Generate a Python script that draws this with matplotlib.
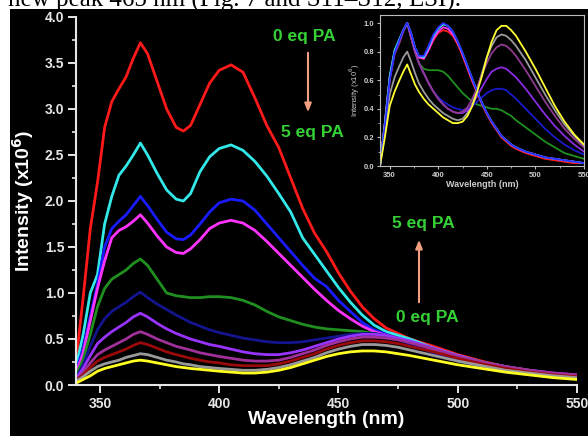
import matplotlib
matplotlib.use("Agg")
import matplotlib.pyplot as plt
from matplotlib.patches import Rectangle
from matplotlib.ticker import MultipleLocator

plt.rcParams['font.family'] = ['Liberation Sans', 'DejaVu Sans']

# ---- main spectra (x10^6), 0 eq PA -> 5 eq PA ----
wl = [340, 343, 346, 349, 352, 355, 358, 361, 364, 367, 370, 374, 378, 382, 385, 388, 392, 396, 400, 405, 410,
      415, 420, 425, 430, 435, 440, 445, 450, 455, 460, 465, 470, 475, 480, 490, 500, 510, 520, 530, 540, 550]

red = [0.25, 0.95, 1.70, 2.20, 2.80, 3.08, 3.22, 3.35, 3.55, 3.72, 3.60, 3.30, 3.00, 2.80, 2.76, 2.82, 3.05, 3.28,
       3.42, 3.48, 3.40, 3.12, 2.82, 2.58, 2.25, 1.92, 1.65, 1.45, 1.22, 1.02, 0.85, 0.72, 0.62, 0.56, 0.50, 0.42,
       0.33, 0.26, 0.20, 0.16, 0.12, 0.10]
cyan = [0.20, 0.55, 1.00, 1.20, 1.75, 2.05, 2.28, 2.38, 2.50, 2.63, 2.50, 2.30, 2.12, 2.02, 2.00, 2.08, 2.32, 2.48,
        2.57, 2.61, 2.55, 2.43, 2.27, 2.08, 1.88, 1.60, 1.42, 1.24, 1.06, 0.90, 0.76, 0.65, 0.58, 0.54, 0.50, 0.40,
        0.32, 0.25, 0.20, 0.15, 0.12, 0.10]
blue = [0.15, 0.40, 0.75, 1.10, 1.50, 1.70, 1.78, 1.85, 1.95, 2.05, 1.95, 1.80, 1.66, 1.59, 1.58, 1.63, 1.75, 1.88,
        1.98, 2.02, 2.00, 1.90, 1.75, 1.60, 1.45, 1.30, 1.16, 1.07, 0.92, 0.80, 0.68, 0.60, 0.55, 0.50, 0.45, 0.35,
        0.27, 0.20, 0.16, 0.12, 0.10, 0.08]
magenta = [0.12, 0.35, 0.70, 1.05, 1.35, 1.60, 1.68, 1.72, 1.78, 1.85, 1.76, 1.62, 1.50, 1.44, 1.43, 1.48, 1.58,
           1.70, 1.76, 1.79, 1.76, 1.68, 1.56, 1.43, 1.30, 1.17, 1.04, 0.92, 0.81, 0.72, 0.64, 0.58, 0.54, 0.50,
           0.46, 0.38, 0.30, 0.24, 0.19, 0.15, 0.12, 0.10]
green = [0.10, 0.28, 0.55, 0.85, 1.05, 1.15, 1.20, 1.25, 1.32, 1.37, 1.30, 1.15, 1.00, 0.97, 0.96, 0.95, 0.95, 0.96,
         0.96, 0.95, 0.92, 0.87, 0.80, 0.74, 0.70, 0.66, 0.63, 0.61, 0.60, 0.59, 0.58, 0.56, 0.53, 0.50, 0.47, 0.39,
         0.31, 0.25, 0.20, 0.16, 0.12, 0.10]
navy = [0.08, 0.22, 0.42, 0.60, 0.72, 0.80, 0.85, 0.90, 0.96, 1.01, 0.95, 0.88, 0.82, 0.76, 0.72, 0.68, 0.64, 0.60,
        0.57, 0.54, 0.51, 0.49, 0.47, 0.46, 0.46, 0.47, 0.49, 0.51, 0.53, 0.55, 0.56, 0.56, 0.54, 0.50, 0.45, 0.35,
        0.26, 0.20, 0.15, 0.12, 0.09, 0.07]
violet = [0.07, 0.18, 0.32, 0.45, 0.52, 0.58, 0.63, 0.68, 0.74, 0.78, 0.74, 0.67, 0.61, 0.56, 0.53, 0.50, 0.47, 0.44,
          0.42, 0.39, 0.36, 0.34, 0.33, 0.33, 0.35, 0.38, 0.42, 0.46, 0.50, 0.53, 0.55, 0.55, 0.54, 0.51, 0.48, 0.40,
          0.32, 0.25, 0.20, 0.16, 0.13, 0.11]
plum = [0.06, 0.14, 0.24, 0.33, 0.38, 0.42, 0.46, 0.50, 0.55, 0.58, 0.55, 0.50, 0.46, 0.42, 0.40, 0.38, 0.35, 0.33,
        0.31, 0.29, 0.27, 0.26, 0.26, 0.27, 0.30, 0.34, 0.38, 0.43, 0.47, 0.50, 0.52, 0.52, 0.51, 0.49, 0.46, 0.39,
        0.31, 0.25, 0.20, 0.16, 0.13, 0.11]
darkred = [0.05, 0.11, 0.19, 0.26, 0.30, 0.33, 0.36, 0.39, 0.43, 0.46, 0.44, 0.40, 0.36, 0.33, 0.31, 0.29, 0.27,
           0.25, 0.24, 0.22, 0.21, 0.21, 0.21, 0.23, 0.26, 0.30, 0.34, 0.39, 0.43, 0.46, 0.48, 0.48, 0.47, 0.45,
           0.42, 0.36, 0.29, 0.23, 0.18, 0.14, 0.11, 0.09]
gray = [0.04, 0.09, 0.15, 0.20, 0.23, 0.25, 0.27, 0.30, 0.32, 0.34, 0.33, 0.30, 0.27, 0.25, 0.23, 0.22, 0.20, 0.19,
        0.18, 0.17, 0.16, 0.16, 0.17, 0.19, 0.22, 0.26, 0.30, 0.35, 0.39, 0.42, 0.44, 0.44, 0.43, 0.41, 0.38, 0.32,
        0.26, 0.21, 0.16, 0.13, 0.10, 0.08]
yellow = [0.02, 0.06, 0.10, 0.15, 0.18, 0.20, 0.22, 0.24, 0.26, 0.27, 0.26, 0.24, 0.22, 0.20, 0.19, 0.18, 0.17, 0.16,
          0.15, 0.14, 0.13, 0.13, 0.14, 0.16, 0.19, 0.23, 0.27, 0.31, 0.34, 0.36, 0.37, 0.37, 0.36, 0.34, 0.32, 0.27,
          0.22, 0.18, 0.14, 0.11, 0.08, 0.06]

main_series = [red, cyan, blue, magenta, green, navy, violet, plum, darkred, gray, yellow]
main_colors = ['#ff1a1a', '#33e8e8', '#1a1aff', '#ff33ff', '#1f8f1f', '#14148f', '#9933ff', '#a0309a',
               '#9a0a0a', '#9a9a9a', '#ffff22']

# ---- inset, normalised spectra ----
wl_in = [340, 345, 350, 355, 360, 364, 368, 372, 376, 380, 385, 390, 395, 400, 405, 410, 415, 420, 425, 430, 435,
         440, 445, 450, 455, 460, 465, 470, 475, 480, 490, 500, 510, 520, 530, 540, 550]

in_red = [0.0, 0.30, 0.62, 0.80, 0.88, 0.95, 1.00, 0.92, 0.82, 0.76, 0.75, 0.81, 0.88, 0.93, 0.95, 0.94, 0.91,
          0.85, 0.77, 0.68, 0.59, 0.51, 0.43, 0.36, 0.30, 0.25, 0.20, 0.17, 0.14, 0.12, 0.09, 0.07, 0.05, 0.04,
          0.03, 0.02, 0.02]
in_cyan = [0.0, 0.30, 0.63, 0.81, 0.89, 0.95, 1.00, 0.93, 0.83, 0.77, 0.76, 0.83, 0.91, 0.96, 0.99, 0.98, 0.94,
           0.87, 0.79, 0.70, 0.61, 0.52, 0.44, 0.37, 0.31, 0.26, 0.21, 0.18, 0.15, 0.13, 0.10, 0.08, 0.06, 0.05,
           0.04, 0.03, 0.02]
in_blue = [0.0, 0.28, 0.60, 0.79, 0.88, 0.95, 1.00, 0.93, 0.83, 0.77, 0.77, 0.84, 0.92, 0.97, 1.00, 0.98, 0.94,
           0.87, 0.79, 0.70, 0.61, 0.52, 0.44, 0.37, 0.31, 0.26, 0.21, 0.18, 0.15, 0.13, 0.10, 0.08, 0.06, 0.05,
           0.04, 0.03, 0.02]
in_magenta = [0.0, 0.29, 0.61, 0.80, 0.88, 0.95, 1.00, 0.92, 0.82, 0.76, 0.75, 0.81, 0.89, 0.94, 0.97, 0.96, 0.92,
              0.86, 0.78, 0.69, 0.60, 0.52, 0.44, 0.37, 0.31, 0.26, 0.21, 0.18, 0.15, 0.13, 0.10, 0.08, 0.06,
              0.05, 0.04, 0.03, 0.02]
in_green = [0.0, 0.30, 0.62, 0.80, 0.88, 0.95, 1.00, 0.90, 0.80, 0.72, 0.68, 0.67, 0.67, 0.67, 0.66, 0.63, 0.59,
            0.55, 0.51, 0.48, 0.45, 0.43, 0.42, 0.41, 0.40, 0.40, 0.39, 0.37, 0.35, 0.32, 0.27, 0.22, 0.17, 0.13,
            0.09, 0.07, 0.05]
in_navy = [0.0, 0.30, 0.62, 0.80, 0.88, 0.95, 1.00, 0.90, 0.80, 0.72, 0.65, 0.58, 0.52, 0.48, 0.45, 0.43, 0.41,
           0.40, 0.39, 0.40, 0.42, 0.45, 0.48, 0.51, 0.53, 0.54, 0.54, 0.53, 0.50, 0.47, 0.40, 0.33, 0.26, 0.20,
           0.15, 0.11, 0.08]
in_violet = [0.0, 0.30, 0.62, 0.80, 0.88, 0.95, 1.00, 0.90, 0.80, 0.72, 0.65, 0.58, 0.52, 0.47, 0.43, 0.40, 0.38,
             0.37, 0.37, 0.39, 0.43, 0.49, 0.55, 0.61, 0.66, 0.68, 0.69, 0.68, 0.65, 0.62, 0.54, 0.45, 0.36, 0.28,
             0.21, 0.15, 0.10]
in_plum = [0.0, 0.30, 0.60, 0.78, 0.86, 0.94, 1.00, 0.90, 0.80, 0.72, 0.65, 0.58, 0.52, 0.47, 0.43, 0.40, 0.38,
           0.37, 0.38, 0.41, 0.47, 0.55, 0.64, 0.72, 0.79, 0.83, 0.85, 0.84, 0.81, 0.77, 0.67, 0.56, 0.45, 0.35,
           0.26, 0.19, 0.13]
in_gray = [0.0, 0.24, 0.50, 0.62, 0.70, 0.76, 0.80, 0.73, 0.65, 0.58, 0.52, 0.47, 0.43, 0.40, 0.37, 0.35, 0.33,
           0.32, 0.33, 0.37, 0.44, 0.54, 0.65, 0.76, 0.84, 0.90, 0.92, 0.91, 0.88, 0.84, 0.74, 0.62, 0.50, 0.39,
           0.29, 0.21, 0.14]
in_yellow = [0.0, 0.20, 0.42, 0.52, 0.60, 0.66, 0.71, 0.64, 0.57, 0.52, 0.47, 0.43, 0.40, 0.37, 0.34, 0.32, 0.30,
             0.30, 0.31, 0.35, 0.42, 0.52, 0.63, 0.76, 0.87, 0.95, 0.98, 0.98, 0.95, 0.91, 0.80, 0.68, 0.55, 0.42,
             0.31, 0.22, 0.15]

inset_series = [in_gray, in_green, in_navy, in_violet, in_plum, in_red, in_magenta, in_cyan, in_blue, in_yellow]
inset_colors = ['#9a9a9a', '#1f8f1f', '#1a1acc', '#8a2be2', '#8e3a8e', '#ff1a1a', '#ff33ff', '#33e8e8',
                '#2a2aff', '#ffff33']

W, H = 588, 436
fig = plt.figure(figsize=(W / 100, H / 100), dpi=100)
fig.patch.set_facecolor('white')

# cropped page text above the picture, then the black picture background
fig.text(8 / W, 1 - 7 / H, 'new peak 465 nm (Fig. 7 and S11–S12, ESI).', fontsize=18,
         family=['Liberation Serif', 'DejaVu Serif'], color='black', ha='left', va='baseline', zorder=-2)
fig.patches.append(Rectangle((10 / W, 0), 1 - 10 / W, 1 - 9 / H, transform=fig.transFigure,
                             facecolor='black', edgecolor='none', zorder=-1))

fg = '#e6e6e6'

# ---- main axes ----
ax = fig.add_axes([76 / W, 1 - 385 / H, (577 - 76) / W, (385 - 17) / H])
ax.set_facecolor('black')
for s, c in zip(main_series, main_colors):
    ax.plot(wl, s, color=c, lw=2.0, solid_capstyle='round', solid_joinstyle='round')
ax.set_xlim(340, 550)
ax.set_ylim(0, 4.0)
ax.xaxis.set_major_locator(MultipleLocator(50))
ax.xaxis.set_minor_locator(MultipleLocator(25))
ax.yaxis.set_major_locator(MultipleLocator(0.5))
ax.yaxis.set_minor_locator(MultipleLocator(0.25))
for side in ['top', 'right']:
    ax.spines[side].set_visible(False)
for side in ['left', 'bottom']:
    ax.spines[side].set_color(fg)
    ax.spines[side].set_linewidth(1.5)
ax.tick_params(which='major', direction='out', length=5.5, width=1.4, color=fg, labelcolor=fg, labelsize=10, pad=3)
ax.tick_params(which='minor', direction='out', length=3, width=1.2, color=fg)
for lab in ax.get_xticklabels() + ax.get_yticklabels():
    lab.set_fontweight('bold')
ax.set_xlabel('Wavelength (nm)', color='white', fontsize=14, fontweight='bold')
ax.set_ylabel('Intensity (x10$^\\mathbf{6}$)', color='white', fontsize=14, fontweight='bold')
ax.xaxis.set_label_coords(0.5, -0.072)
ax.yaxis.set_label_coords(-0.08, 0.5)

# annotations
gcol = '#35d035'
acol = '#f0a080'
fig.text(304 / W, 1 - 37 / H, '0 eq PA', color=gcol, fontsize=12.5, fontweight='bold', ha='center', va='center')
fig.text(312 / W, 1 - 133 / H, '5 eq PA', color=gcol, fontsize=12.5, fontweight='bold', ha='center', va='center')
fig.text(423 / W, 1 - 223 / H, '5 eq PA', color=gcol, fontsize=12.5, fontweight='bold', ha='center', va='center')
fig.text(427 / W, 1 - 317 / H, '0 eq PA', color=gcol, fontsize=12.5, fontweight='bold', ha='center', va='center')
ax.annotate('', xy=(308 / W, 1 - 115 / H), xytext=(308 / W, 1 - 50 / H), xycoords='figure fraction',
            arrowprops=dict(arrowstyle='-|>,head_length=0.5,head_width=0.2', color=acol, lw=1.5))
ax.annotate('', xy=(419 / W, 1 - 237 / H), xytext=(419 / W, 1 - 305 / H), xycoords='figure fraction',
            arrowprops=dict(arrowstyle='-|>,head_length=0.5,head_width=0.2', color=acol, lw=1.5))

# ---- inset ----
axi = fig.add_axes([380 / W, 1 - 166 / H, (584 - 380) / W, (166 - 15) / H])
axi.set_facecolor('black')
for s, c in zip(inset_series, inset_colors):
    axi.plot(wl_in, s, color=c, lw=1.3, solid_joinstyle='round')
axi.set_xlim(340, 550)
axi.set_ylim(0, 1.056)
axi.xaxis.set_major_locator(MultipleLocator(50))
axi.xaxis.set_minor_locator(MultipleLocator(25))
axi.yaxis.set_major_locator(MultipleLocator(0.2))
axi.yaxis.set_minor_locator(MultipleLocator(0.1))
for side in axi.spines.values():
    side.set_color('#bbbbbb')
    side.set_linewidth(0.8)
axi.tick_params(which='major', direction='out', length=2.5, width=0.8, color='#bbbbbb', labelcolor='#cccccc',
                labelsize=5.5, pad=1.5)
axi.tick_params(which='minor', direction='out', length=1.5, width=0.6, color='#bbbbbb')
for lab in axi.get_xticklabels() + axi.get_yticklabels():
    lab.set_fontweight('bold')
axi.set_xlabel('Wavelength (nm)', color='#cccccc', fontsize=6.5, fontweight='bold', labelpad=1)
axi.set_ylabel('Intensity (x10$^6$)', color='#cccccc', fontsize=5.5, labelpad=1)

fig.savefig('out.png', dpi=100, facecolor=fig.get_facecolor())
